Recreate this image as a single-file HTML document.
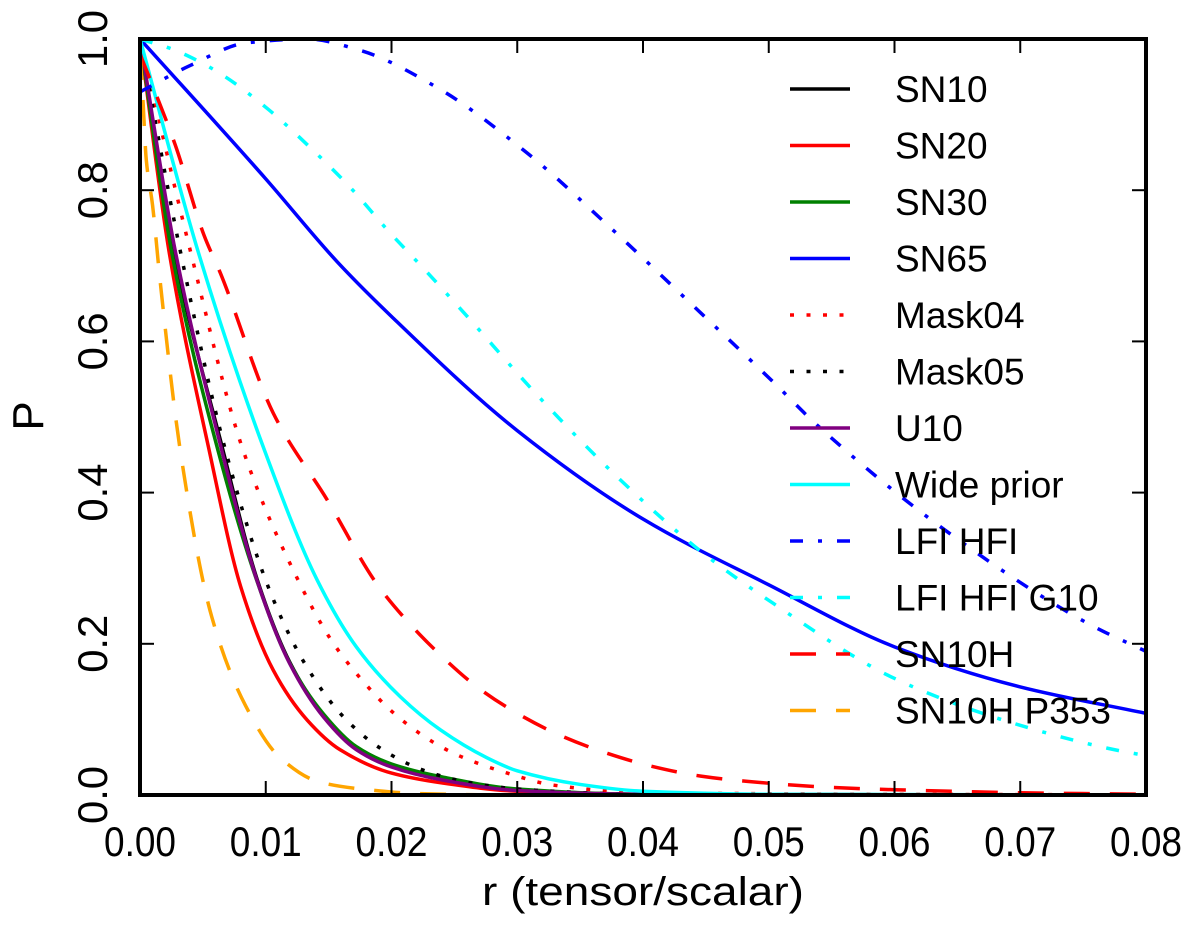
<!DOCTYPE html>
<html><head><meta charset="utf-8"><style>
html,body{margin:0;padding:0;background:#fff;}
svg{display:block;}
text{font-family:"Liberation Sans","DejaVu Sans",sans-serif;fill:#000;}
</style></head><body>
<svg id="chart" width="1200" height="941" viewBox="0 0 1200 941" xmlns="http://www.w3.org/2000/svg">
<g id="plot"></g>
<g id="axes"></g>
<g id="legend"></g>
</svg>
<script>
const xTicks = [0, 0.01, 0.02, 0.03, 0.04, 0.05, 0.06, 0.07, 0.08];
const xTickLabels = ["0.00","0.01","0.02","0.03","0.04","0.05","0.06","0.07","0.08"];
const yTicks = [0, 0.2, 0.4, 0.6, 0.8, 1.0];
const yTickLabels = ["0.0","0.2","0.4","0.6","0.8","1.0"];
const seriesNames = ["SN10","SN20","SN30","SN65","Mask04","Mask05","U10","Wide prior","LFI HFI","LFI HFI G10","SN10H","SN10H P353"];

const rSN10 = [0,0.0027,0.0066,0.0093,0.0119,0.0146,0.0172,0.02,0.024,0.03,0.04,0.08];
const pSN10 = [1,0.72,0.456,0.286,0.176,0.105,0.062,0.039,0.022,0.007,0.001,0];
const rSN20 = [0,0.0023,0.0055,0.008,0.0106,0.0133,0.0159,0.02,0.024,0.03,0.04,0.08];
const pSN20 = [1,0.72,0.456,0.276,0.165,0.099,0.06,0.029,0.016,0.005,0.001,0];
const rSN30 = [0,0.0025,0.0062,0.0092,0.0118,0.0146,0.0172,0.02,0.024,0.03,0.04,0.08];
const pSN30 = [1,0.72,0.456,0.288,0.178,0.107,0.064,0.041,0.024,0.008,0.001,0];
const rSN65 = [0,0.01,0.0157,0.02,0.03,0.04,0.05,0.06,0.07,0.08];
const pSN65 = [1,0.815,0.705,0.633,0.482,0.365,0.278,0.196,0.143,0.108];
const rMask04 = [0,0.004,0.0082,0.0127,0.0152,0.0175,0.0202,0.0233,0.0255,0.0292,0.0329,0.04,0.08];
const pMask04 = [1,0.72,0.456,0.28,0.205,0.155,0.108,0.07,0.051,0.029,0.013,0.003,0];
const rMask05 = [0,0.0032,0.0068,0.0103,0.0131,0.0162,0.0191,0.0225,0.0263,0.03,0.04,0.08];
const pMask05 = [1,0.72,0.456,0.271,0.174,0.103,0.062,0.033,0.016,0.008,0.001,0];
const rU10 = [0,0.0028,0.0065,0.0093,0.0119,0.0146,0.0172,0.02,0.024,0.03,0.04,0.08];
const pU10 = [1,0.72,0.456,0.284,0.174,0.103,0.06,0.037,0.02,0.006,0.001,0];
const rWide = [0,0.0046,0.0099,0.0141,0.0172,0.0207,0.0239,0.0275,0.03,0.035,0.04,0.05,0.08];
const pWide = [1,0.72,0.456,0.284,0.196,0.13,0.086,0.05,0.032,0.014,0.005,0.001,0];
const rLFI = [0,0.004,0.0085,0.0133,0.0175,0.0236,0.0308,0.0375,0.044,0.0505,0.0538,0.0643,0.0756,0.08];
const pLFI = [0.93,0.965,0.995,1.0,0.985,0.936,0.849,0.749,0.647,0.544,0.49,0.347,0.225,0.19];
const rLFIG = [0,0.0025,0.0045,0.0066,0.0102,0.0135,0.0167,0.0197,0.0228,0.0257,0.0317,0.038,0.0447,0.0504,0.0599,0.0681,0.0769,0.08];
const pLFIG = [1,0.987,0.972,0.952,0.907,0.857,0.804,0.747,0.692,0.639,0.527,0.42,0.321,0.253,0.155,0.102,0.062,0.052];
const rSN10H = [0,0.0012,0.0028,0.0051,0.0064,0.0106,0.0149,0.0188,0.0212,0.0239,0.0268,0.03,0.0334,0.037,0.0407,0.0446,0.0483,0.055,0.06,0.07,0.08];
const pSN10H = [0.98,0.93,0.86,0.74,0.69,0.505,0.39,0.28,0.231,0.185,0.143,0.108,0.079,0.056,0.038,0.025,0.018,0.01,0.007,0.003,0.001];
const rP353 = [0,0.0002,0.0005,0.001,0.0016,0.0032,0.0057,0.0084,0.0111,0.0143,0.0181,0.022,0.03,0.08];
const pP353 = [0.98,0.93,0.84,0.78,0.68,0.456,0.236,0.118,0.05,0.017,0.007,0.002,0,0];

const X0=140, X1=1146, Y0=795, Y1=39;
function xs(v){return X0+(v-0)/(0.08-0)*(X1-X0);}
function ys(v){return Y0-(v-0)/(1-0)*(Y0-Y1);}
const NS="http://www.w3.org/2000/svg";
function mk(tag,attrs,parent){const e=document.createElementNS(NS,tag);for(const k in attrs)e.setAttribute(k,attrs[k]);parent.appendChild(e);return e;}

// monotone cubic (Fritsch-Carlson) in pixel space
function pathD(rs,ps){
  const X=rs.map(xs), Y=ps.map(ys), n=X.length;
  const d=[], m=new Array(n);
  for(let i=0;i<n-1;i++) d.push((Y[i+1]-Y[i])/(X[i+1]-X[i]));
  m[0]=d[0]; m[n-1]=d[n-2];
  for(let i=1;i<n-1;i++){
    if(d[i-1]*d[i]<=0) m[i]=0;
    else { const h0=X[i]-X[i-1], h1=X[i+1]-X[i];
      const w1=2*h1+h0, w2=h1+2*h0;
      m[i]=(w1+w2)/(w1/d[i-1]+w2/d[i]); }
  }
  let s="M"+X[0].toFixed(2)+","+Y[0].toFixed(2);
  for(let i=0;i<n-1;i++){
    const h=X[i+1]-X[i];
    s+=" C"+(X[i]+h/3).toFixed(2)+","+(Y[i]+m[i]*h/3).toFixed(2)+" "+(X[i+1]-h/3).toFixed(2)+","+(Y[i+1]-m[i+1]*h/3).toFixed(2)+" "+X[i+1].toFixed(2)+","+Y[i+1].toFixed(2);
  }
  return s;
}

const styles = {
  "SN10":{c:"#000000",dash:null},
  "SN20":{c:"#ff0000",dash:null},
  "SN30":{c:"#008000",dash:null},
  "SN65":{c:"#0000ff",dash:null},
  "Mask04":{c:"#ff0000",dash:"4 12.5"},
  "Mask05":{c:"#000000",dash:"4 12.5"},
  "U10":{c:"#800080",dash:null},
  "Wide prior":{c:"#00ffff",dash:null},
  "LFI HFI":{c:"#0000ff",dash:"13 15 4 15"},
  "LFI HFI G10":{c:"#00ffff",dash:"13 15 4 15"},
  "SN10H":{c:"#ff0000",dash:"26 20"},
  "SN10H P353":{c:"#ffa500",dash:"26 20"}
};
const dataMap = {
  "SN10":[rSN10,pSN10],"SN20":[rSN20,pSN20],"SN30":[rSN30,pSN30],"SN65":[rSN65,pSN65],
  "Mask04":[rMask04,pMask04],"Mask05":[rMask05,pMask05],"U10":[rU10,pU10],"Wide prior":[rWide,pWide],
  "LFI HFI":[rLFI,pLFI],"LFI HFI G10":[rLFIG,pLFIG],"SN10H":[rSN10H,pSN10H],"SN10H P353":[rP353,pP353]
};

const plot=document.getElementById('plot');
mk('clipPath',{id:'clip'},plot);
mk('rect',{x:X0,y:Y1,width:X1-X0,height:Y0-Y1},document.getElementById('clip'));
seriesNames.forEach(n=>{
  const s=styles[n];const dd=dataMap[n];
  const p=mk('path',{d:pathD(dd[0],dd[1]),fill:"none",stroke:s.c,"stroke-width":3.5,"clip-path":"url(#clip)"},plot);
  
  
  if(s.dash)p.setAttribute('stroke-dasharray',s.dash);
});

const axes=document.getElementById('axes');
const frame=mk('rect',{x:X0,y:Y1,width:X1-X0,height:Y0-Y1,fill:"none",stroke:"#000","stroke-width":4},axes);


xTicks.forEach((v,i)=>{
  const x=xs(v);
  mk('line',{x1:x,y1:Y0,x2:x,y2:Y0-14,stroke:"#000","stroke-width":2},axes);
  mk('line',{x1:x,y1:Y1,x2:x,y2:Y1+14,stroke:"#000","stroke-width":2},axes);
  const t=mk('text',{x:x,y:856,"text-anchor":"middle","font-size":42,textLength:72,lengthAdjust:"spacingAndGlyphs"},axes);
  t.textContent=xTickLabels[i];
  
  
});
yTicks.forEach((v,i)=>{
  const y=ys(v);
  mk('line',{x1:X0,y1:y,x2:X0+14,y2:y,stroke:"#000","stroke-width":2},axes);
  mk('line',{x1:X1,y1:y,x2:X1-14,y2:y,stroke:"#000","stroke-width":2},axes);
  const t=mk('text',{x:0,y:0,"text-anchor":"middle","font-size":42,textLength:58,lengthAdjust:"spacingAndGlyphs",transform:"translate(107,"+y+") rotate(-90)"},axes);
  t.textContent=yTickLabels[i];
  
  
});
const xt=mk('text',{x:643,y:905,"text-anchor":"middle","font-size":40,textLength:322,lengthAdjust:"spacingAndGlyphs"},axes);
xt.textContent="r (tensor/scalar)";


const yt=mk('text',{x:0,y:0,"text-anchor":"middle","font-size":44,transform:"translate(43,416) rotate(-90)"},axes);
yt.textContent="P";



const legend=document.getElementById('legend');
seriesNames.forEach((n,i)=>{
  const y=89+56.5*i;
  const g=mk('g',{},legend);
  
  
  const s=styles[n];
  const l=mk('line',{x1:790,y1:y,x2:850,y2:y,stroke:s.c,"stroke-width":3.5},g);
  if(s.dash)l.setAttribute('stroke-dasharray',s.dash);
  const t=mk('text',{x:895,y:y+13,"font-size":37},g);
  t.textContent=n;
});
</script>
</body></html>
